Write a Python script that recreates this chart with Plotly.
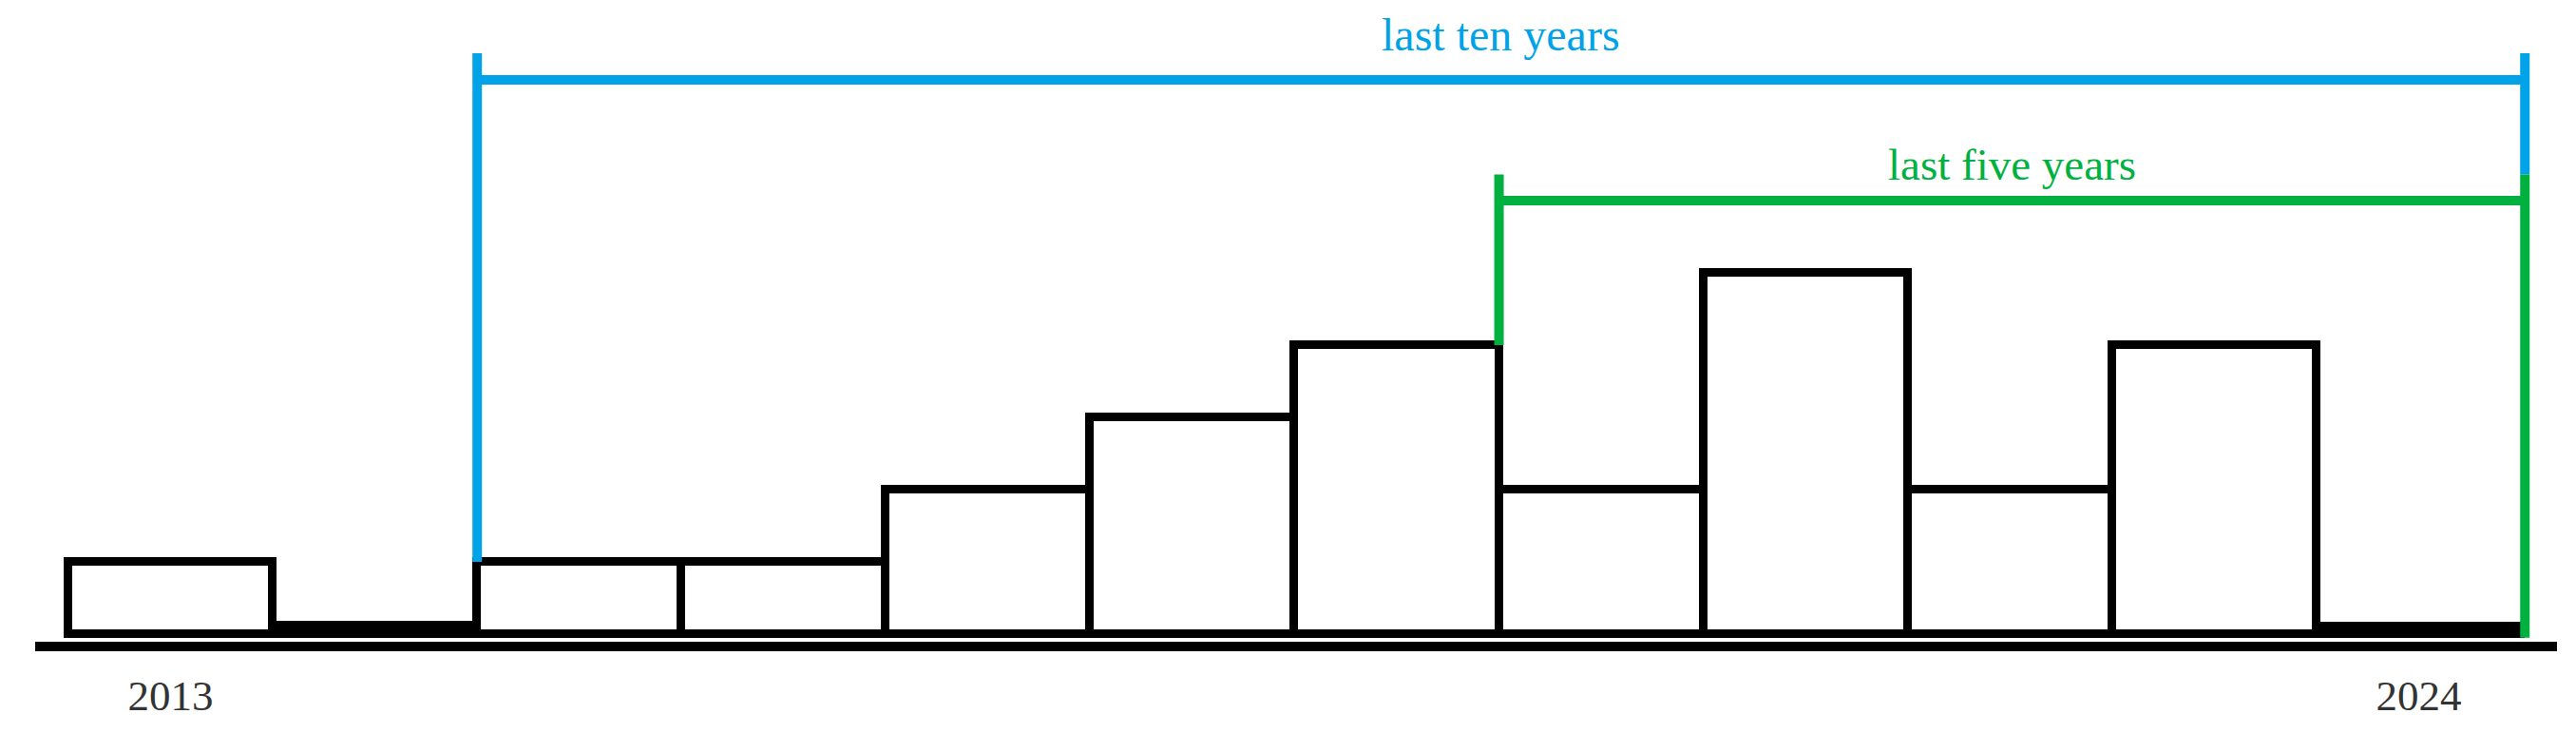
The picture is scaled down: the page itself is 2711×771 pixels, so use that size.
import plotly.graph_objects as go

# counts per year (the two near-empty years are tiny slivers)
years = [2013, 2014, 2015, 2016, 2017, 2018, 2019, 2020, 2021, 2022, 2023, 2024]
counts = [1, 0.12, 1, 1, 2, 3, 4, 2, 5, 2, 4, 0.1]
tick_years = [2013, 2024]

# bracket spans
ten_start, five_start, span_end = 2015, 2020, 2024
ten_label = 'last ten years'
five_label = 'last five years'
ten_level, five_level = 7.67, 6.0
ten_top, five_top = 8.04, 6.36

BLUE = '#00A3E8'
GREEN = '#00B140'
SERIF = 'Liberation Serif, Times New Roman, serif'

fig = go.Figure()

fig.add_trace(go.Bar(
    x=years,
    y=counts,
    width=1,
    marker=dict(color='white', line=dict(color='black', width=9)),
    hoverinfo='skip',
))

left_ten = ten_start - 0.5
left_five = five_start - 0.5
right_edge = span_end + 0.52
base_ten = counts[years.index(ten_start)]
base_five = counts[years.index(five_start - 1)]

def seg(x0, y0, x1, y1, color, w):
    fig.add_shape(type='line', xref='x', yref='y', x0=x0, y0=y0, x1=x1, y1=y1,
                  line=dict(color=color, width=w))

# blue bracket: last ten years
seg(left_ten, base_ten, left_ten, ten_top, BLUE, 10)
seg(left_ten, ten_level, right_edge, ten_level, BLUE, 10)
seg(right_edge, ten_top, right_edge, five_top, BLUE, 10)

# green bracket: last five years
seg(left_five, base_five, left_five, five_top, GREEN, 10)
seg(left_five, five_level, right_edge, five_level, GREEN, 10)
seg(right_edge, five_top, right_edge, -0.05, GREEN, 10)

fig.add_annotation(x=(left_ten + right_edge) / 2, y=8.3, text=ten_label,
                   showarrow=False, font=dict(family=SERIF, size=48, color=BLUE))
fig.add_annotation(x=(left_five + right_edge) / 2, y=6.5, text=five_label,
                   showarrow=False, font=dict(family=SERIF, size=47, color=GREEN))

fig.update_layout(
    width=2711,
    height=771,
    margin=dict(l=29, r=28, t=0, b=104),
    plot_bgcolor='white',
    paper_bgcolor='white',
    bargap=0,
    showlegend=False,
    xaxis=dict(
        range=[2012.337, 2024.677],
        tickvals=tick_years,
        ticktext=[str(y) for y in tick_years],
        tickfont=dict(family=SERIF, size=45, color='#333333'),
        ticks='',
        showgrid=False,
        zeroline=False,
        showline=True,
        linecolor='black',
        linewidth=10,
        ticklabelstandoff=8,
    ),
    yaxis=dict(
        range=[-0.105, 8.67],
        visible=False,
        showgrid=False,
        zeroline=False,
    ),
)

fig.write_html('out.html')
